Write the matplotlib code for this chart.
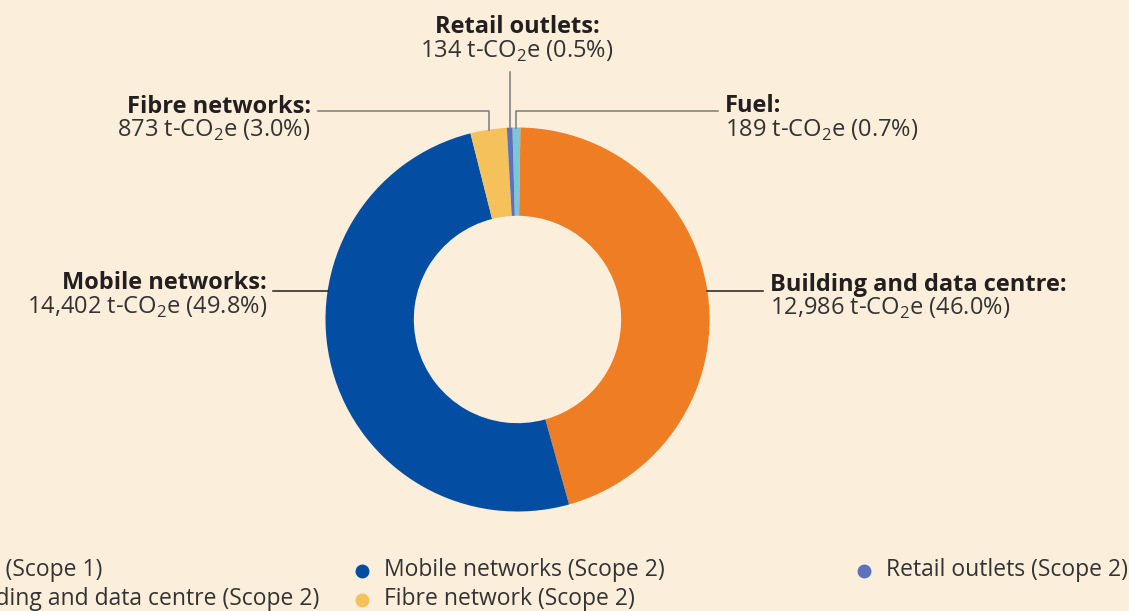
import numpy as np
import matplotlib.pyplot as plt
from matplotlib.lines import Line2D

# data
categories = ['Fuel', 'Building and data centre', 'Mobile networks',
              'Fibre networks', 'Retail outlets']
emissions = [189, 12986, 14402, 873, 134]          # t-CO2e
shares = [0.7, 46.0, 49.8, 3.0, 0.5]                # % as printed
legend_labels = ['Fuel (Scope 1)', 'Building and data centre (Scope 2)',
                 'Mobile networks (Scope 2)', 'Fibre network (Scope 2)',
                 'Retail outlets (Scope 2)']
colors = ['#7cc6da', '#ee7d23', '#034ea2', '#f5c15b', '#5d72bd']

BG = '#fbeedb'
DARK = '#231f20'
W, H = 1129, 611
CX, CY, R = 517.5, 319.5, 192   # donut centre and radius in pixels

plt.rcParams['font.family'] = ['Open Sans', 'DejaVu Sans']
plt.rcParams['mathtext.fontset'] = 'custom'
plt.rcParams['mathtext.rm'] = 'Open Sans'


def fx(x):
    return x / W


def fy(y):
    return 1 - y / H


def dx(x):
    return (x - CX) / R


def dy(y):
    return (CY - y) / R


fig = plt.figure(figsize=(W / 100, H / 100), dpi=100, facecolor=BG)
ax = fig.add_axes([(CX - R) / W, (H - CY - R) / H, 2 * R / W, 2 * R / H])
wedges, _ = ax.pie(emissions, colors=colors, startangle=91.5, counterclock=False,
                   wedgeprops=dict(width=0.46, linewidth=0))
ax.set_xlim(-1, 1)
ax.set_ylim(-1, 1)
ax.axis('off')

# leader lines
mids = []
for w in wedges:
    t = np.deg2rad((w.theta1 + w.theta2) / 2)
    mids.append((np.cos(t), np.sin(t)))

grey = '#7a7a7a'
mx, my = mids[0]
ax.plot([mx, mx, dx(718)], [my, dy(111), dy(111)], color=grey, lw=1.1, clip_on=False)
mx, my = mids[4]
ax.plot([mx, mx], [my, dy(72)], color=grey, lw=1.1, clip_on=False)
mx, my = mids[3]
ax.plot([mx, mx, dx(318)], [my, dy(111), dy(111)], color=grey, lw=1.1, clip_on=False)
yl = dy(291)
ax.plot([np.sqrt(1 - yl ** 2), dx(763)], [yl, yl], color=DARK, lw=1.1, clip_on=False)
ax.plot([-np.sqrt(1 - yl ** 2), dx(273)], [yl, yl], color=DARK, lw=1.1, clip_on=False)

# labels: x, bold baseline, value baseline, alignment (pixels)
label_pos = [(725, 112, 137, 'left'),
             (770, 291, 315, 'left'),
             (267, 289, 314, 'right'),
             (311, 113, 137, 'right'),
             (517, 33, 58, 'center')]
for name, val, pct, (x, yb, yv, ha) in zip(categories, emissions, shares, label_pos):
    fig.text(fx(x), fy(yb), name + ':', ha=ha, va='baseline', fontsize=17,
             fontweight='bold', color=DARK)
    fig.text(fx(x), fy(yv), f'{val:,} t-CO$_\\mathregular{{2}}$e ({pct:.1f}%)',
             ha=ha, va='baseline', fontsize=17, color='#333333')

# legend, laid out in two rows, cut at the left edge like the source
col_x = [-45, 384, 886]
row_y = [576, 605]
for i, (lab, c) in enumerate(zip(legend_labels, colors)):
    x = col_x[i // 2]
    y = row_y[i % 2]
    fig.add_artist(Line2D([fx(x - 22)], [fy(y - 5)], marker='o', ms=9,
                          color=c, lw=0, transform=fig.transFigure))
    fig.text(fx(x), fy(y), lab, ha='left', va='baseline', fontsize=16.5,
             color='#333333')

fig.savefig('out.png', dpi=100, facecolor=BG)
